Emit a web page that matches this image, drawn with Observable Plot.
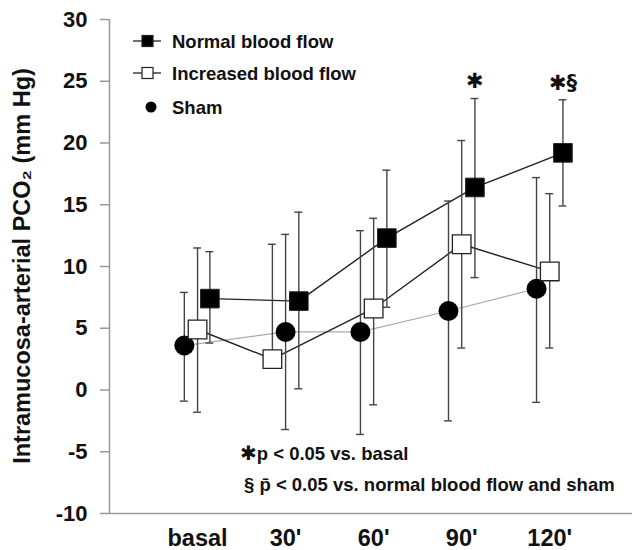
<!DOCTYPE html>
<html><head><meta charset="utf-8">
<script src="https://cdn.jsdelivr.net/npm/d3@7"></script>
<script src="https://cdn.jsdelivr.net/npm/@observablehq/plot@0.6"></script>
<style>
body{margin:0;background:#fff;}
svg{font-family:"Liberation Sans",Arial,sans-serif;}
</style>
</head><body><div id="chart"></div>
<script>
// ---- data ----
const timepoints = ["basal", "30'", "60'", "90'", "120'"];
const normalMean = [7.4, 7.2, 12.3, 16.4, 19.2];
const normalLow  = [3.8, 0.1, 6.7, 9.1, 14.9];
const normalHigh = [11.2, 14.4, 17.8, 23.6, 23.5];
const increasedMean = [4.9, 2.5, 6.6, 11.8, 9.6];
const increasedLow  = [-1.8, 2.5, -1.2, 3.4, 3.4];
const increasedHigh = [11.5, 11.8, 13.9, 20.2, 15.9];
const shamMean = [3.6, 4.7, 4.7, 6.4, 8.2];
const shamLow  = [-0.9, -3.2, -3.6, -2.5, -1.0];
const shamHigh = [7.9, 12.6, 12.9, 15.3, 17.2];
const normalSignificance = ["", "", "", "\u2731", "\u2731\u00a7"];
const yTicks = [-10, -5, 0, 5, 10, 15, 20, 25, 30];
const seriesNames = ["Normal blood flow", "Increased blood flow", "Sham"];
const noteLines = ["p < 0.05 vs. basal", "p\u0304 < 0.05 vs. normal blood flow and sham"];

// ---- layout (horizontal dodge of each series, in category units) ----
const dodge = {
  normal:    [0.14, 0.15, 0.15, 0.15, 0.15],
  increased: [0, -0.15, 0, 0, 0],
  sham:      [-0.15, 0, -0.15, -0.15, -0.15]
};
function rows(key, mean, low, high, sig) {
  return timepoints.map((t, i) => ({
    series: key, t, i, x: i + dodge[key][i], mean: mean[i], low: low[i], high: high[i],
    sig: sig ? sig[i] : ""
  }));
}
const normal = rows("normal", normalMean, normalLow, normalHigh, normalSignificance);
const increased = rows("increased", increasedMean, increasedLow, increasedHigh);
const sham = rows("sham", shamMean, shamLow, shamHigh);
const all = [...sham, ...increased, ...normal];
const cap = 0.045;
const barColor = "#444";
const axisColor = "#999";

const plot = Plot.plot({
  width: 632, height: 550,
  marginLeft: 109, marginRight: 0, marginTop: 19, marginBottom: 37,
  x: {type: "linear", domain: [-1, 4.94], axis: null},
  y: {domain: [-10, 30], axis: null},
  marks: [
    // axes
    Plot.ruleX([-1], {stroke: axisColor, strokeWidth: 1.5}),
    Plot.ruleY([-10], {stroke: axisColor, strokeWidth: 1.5}),
    Plot.ruleY(yTicks, {x1: -1, x2: -1 - 9 / 88, y: d => d, stroke: axisColor, strokeWidth: 1.5}),
    Plot.text(yTicks, {x: -1, y: d => d, text: d => String(d), dx: -22, textAnchor: "end",
      fontSize: 22, fontWeight: "bold", fill: "#111"}),
    Plot.text(timepoints, {x: (d, i) => i, y: -10, text: d => d, dy: 25,
      fontSize: 23.5, fontWeight: "bold", fill: "#111"}),
    // lines
    Plot.line(sham, {x: "x", y: "mean", stroke: "#aaa", strokeWidth: 1.2}),
    Plot.line(increased, {x: "x", y: "mean", stroke: "#222", strokeWidth: 1.4}),
    Plot.line(normal, {x: "x", y: "mean", stroke: "#222", strokeWidth: 1.4}),
    // error bars
    Plot.ruleX(all, {x: "x", y1: "low", y2: "high", stroke: barColor, strokeWidth: 1.4}),
    Plot.ruleY(all, {y: "low", x1: d => d.x - cap, x2: d => d.x + cap, stroke: barColor, strokeWidth: 1.4}),
    Plot.ruleY(all, {y: "high", x1: d => d.x - cap, x2: d => d.x + cap, stroke: barColor, strokeWidth: 1.4}),
    // markers
    Plot.dot(sham, {x: "x", y: "mean", r: 10, fill: "#000", stroke: "none"}),
    Plot.dot(increased, {x: "x", y: "mean", symbol: "square", r: 10.5, fill: "#fff", stroke: "#222", strokeWidth: 1.3}),
    Plot.dot(normal, {x: "x", y: "mean", symbol: "square", r: 10.5, fill: "#000", stroke: "#222", strokeWidth: 1}),
    // significance marks
    Plot.text(normal, {x: "x", y: "high", text: "sig", dy: -17, fontSize: 21, fontWeight: "bold", fill: "#111",
      fontFamily: "DejaVu Sans"})
  ]
});

const svg = d3.select(plot);
// y label
svg.append("text")
  .attr("transform", "translate(30,266) rotate(-90)")
  .attr("text-anchor", "middle")
  .attr("font-size", 23.5).attr("font-weight", "bold").attr("fill", "#111")
  .text("Intramucosa-arterial PCO\u2082 (mm Hg)");

// legend
const lg = svg.append("g").attr("font-size", 18.5).attr("font-weight", "bold").attr("fill", "#111")
  .attr("text-anchor", "start");
const legendY = [41, 73, 107];
[0, 1].forEach(k => {
  lg.append("line").attr("x1", 133).attr("x2", 161).attr("y1", legendY[k]).attr("y2", legendY[k])
    .attr("stroke", "#222").attr("stroke-width", 1.3);
  lg.append("rect").attr("x", 142).attr("y", legendY[k] - 5.5).attr("width", 11).attr("height", 11)
    .attr("fill", k === 0 ? "#000" : "#fff").attr("stroke", "#222").attr("stroke-width", 1.2);
});
lg.append("circle").attr("cx", 151).attr("cy", legendY[2]).attr("r", 5.5).attr("fill", "#000");
seriesNames.forEach((name, k) => {
  lg.append("text").attr("x", 172).attr("y", legendY[k]).attr("dy", "0.36em").text(name);
});

// footnotes
const notes = svg.append("g").attr("font-size", 18.5).attr("font-weight", "bold").attr("fill", "#111")
  .attr("text-anchor", "start");
const n1 = notes.append("text").attr("x", 240).attr("y", 460);
n1.append("tspan").attr("font-family", "DejaVu Sans").attr("font-size", 20).text("\u2731");
n1.append("tspan").text(noteLines[0]);
const n2 = notes.append("text").attr("x", 244).attr("y", 491);
n2.append("tspan").text("\u00a7 ");
n2.append("tspan").text(noteLines[1]);

document.getElementById("chart").appendChild(plot);
</script>
</body></html>
